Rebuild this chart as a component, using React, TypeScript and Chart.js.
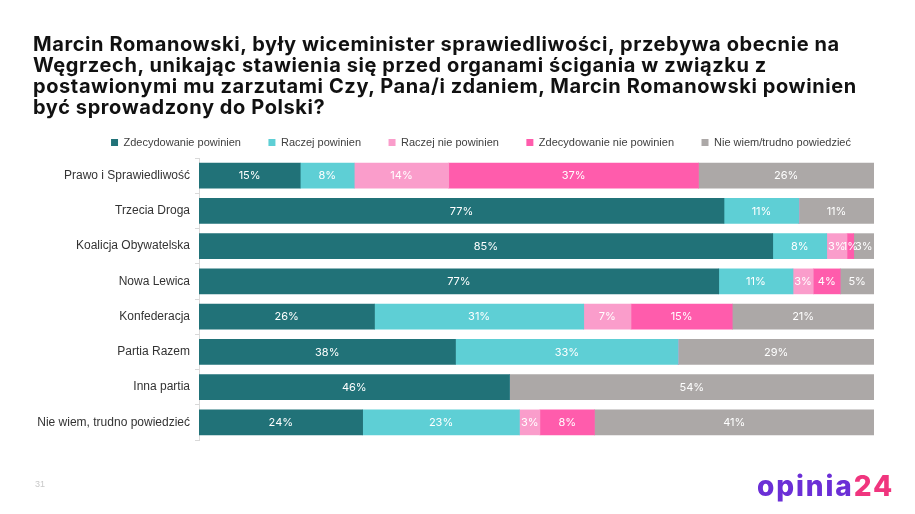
import React, { useEffect, useRef } from "react";
import { Chart, registerables } from "chart.js";

Chart.register(...registerables);

const categories = [
  "Prawo i Sprawiedliwość",
  "Trzecia Droga",
  "Koalicja Obywatelska",
  "Nowa Lewica",
  "Konfederacja",
  "Partia Razem",
  "Inna partia",
  "Nie wiem, trudno powiedzieć",
];
const seriesNames = [
  "Zdecydowanie powinien",
  "Raczej powinien",
  "Raczej nie powinien",
  "Zdecydowanie nie powinien",
  "Nie wiem/trudno powiedzieć",
];
const zdecydowaniePowinien = [15, 77, 85, 77, 26, 38, 46, 24];
const raczejPowinien = [8, 11, 8, 11, 31, 33, 0, 23];
const raczejNiePowinien = [14, 0, 3, 3, 7, 0, 0, 3];
const zdecydowanieNiePowinien = [37, 0, 1, 4, 15, 0, 0, 8];
const nieWiem = [26, 11, 3, 5, 21, 29, 54, 41];
const seriesColors = ["#217278", "#5ecfd5", "#fa9dcb", "#ff5cac", "#aca8a7"];

const titleLines = [
  "Marcin Romanowski, były wiceminister sprawiedliwości, przebywa obecnie na",
  "Węgrzech, unikając stawienia się przed organami ścigania w związku z",
  "postawionymi mu zarzutami Czy, Pana/i zdaniem, Marcin Romanowski powinien",
  "być sprowadzony do Polski?",
];

const allSeries = [
  zdecydowaniePowinien,
  raczejPowinien,
  raczejNiePowinien,
  zdecydowanieNiePowinien,
  nieWiem,
];

export default function App() {
  const ref = useRef<HTMLCanvasElement | null>(null);

  useEffect(() => {
    const canvas = ref.current;
    if (!canvas) return;
    const rowSums = categories.map((_, i) =>
      allSeries.reduce((s, arr) => s + arr[i], 0)
    );
    const datasets = allSeries.map((arr, si) => ({
      label: seriesNames[si],
      data: arr.map((v, i) => (v / rowSums[i]) * 100),
      backgroundColor: seriesColors[si],
      borderWidth: 0,
      barThickness: 25,
    }));

    const labelPlugin = {
      id: "segLabels",
      afterDatasetsDraw(chart: any) {
        const ctx = chart.ctx;
        ctx.save();
        ctx.font = "400 11px Inter";
        ctx.fillStyle = "#ffffff";
        ctx.textAlign = "center";
        ctx.textBaseline = "middle";
        allSeries.forEach((arr, di) => {
          const meta = chart.getDatasetMeta(di);
          meta.data.forEach((bar: any, i: number) => {
            const v = arr[i];
            if (!v) return;
            const p = bar.getProps(["x", "y", "base"], true);
            ctx.fillText(v + "%", (p.x + p.base) / 2, p.y + 0.5);
          });
        });
        ctx.restore();
      },
    };

    const legendShift = {
      id: "legendShift",
      afterLayout(chart: any) {
        const lg = chart.legend;
        if (lg) {
          lg.left += 29;
          lg.right += 29;
        }
      },
    };

    const chart = new Chart(canvas, {
      type: "bar",
      data: { labels: categories, datasets },
      options: {
        indexAxis: "y",
        responsive: false,
        animation: false,
        devicePixelRatio: 1,
        layout: { padding: { top: 109.5, left: 30, right: 41, bottom: 74 } },
        plugins: {
          tooltip: { enabled: false },
          legend: {
            position: "top",
            labels: {
              boxWidth: 7,
              boxHeight: 7,
              padding: 27.5,
              color: "#404040",
              font: { family: "'Liberation Sans', Arial", size: 11 },
            },
          },
        },
        scales: {
          x: { stacked: true, min: 0, max: 100, display: false },
          y: {
            stacked: true,
            afterFit: (scale: any) => {
              scale.width = 169;
            },
            border: { display: true, color: "#d9d9d9" },
            grid: {
              offset: true,
              drawOnChartArea: false,
              drawTicks: true,
              tickLength: 4,
              color: "#d9d9d9",
            },
            ticks: {
              padding: 5,
              color: "#333333",
              font: { family: "'Liberation Sans', Arial", size: 12 },
            },
          },
        },
      },
      plugins: [labelPlugin, legendShift],
    } as any);
    return () => chart.destroy();
  }, []);

  return (
    <div
      style={{
        position: "absolute",
        left: 0,
        top: 0,
        width: 915,
        height: 514,
        background: "#ffffff",
        overflow: "hidden",
      }}
    >
      <canvas
        ref={ref}
        width={915}
        height={514}
        style={{ position: "absolute", left: 0, top: 0 }}
      />
      <div
        style={{
          position: "absolute",
          left: 33,
          top: 33.5,
          fontFamily: "Inter, sans-serif",
          fontWeight: 700,
          fontSize: 20,
          lineHeight: "21.3px",
          letterSpacing: "0.6px",
          color: "#111111",
          whiteSpace: "nowrap",
        }}
      >
        {titleLines.map((l, i) => (
          <div key={i}>{l}</div>
        ))}
      </div>
      <div
        style={{
          position: "absolute",
          left: 35,
          top: 479,
          fontFamily: "'Liberation Sans', Arial",
          fontSize: 9,
          color: "#c8c8c8",
        }}
      >
        31
      </div>
      <div
        style={{
          position: "absolute",
          left: 757,
          top: 469,
          fontFamily: "Inter, sans-serif",
          fontWeight: 800,
          fontSize: 28,
          lineHeight: "34px",
          letterSpacing: "1.9px",
          whiteSpace: "nowrap",
        }}
      >
        <span style={{ color: "#6b2fd6" }}>opinia</span>
        <span style={{ color: "#f0357e" }}>24</span>
      </div>
    </div>
  );
}
